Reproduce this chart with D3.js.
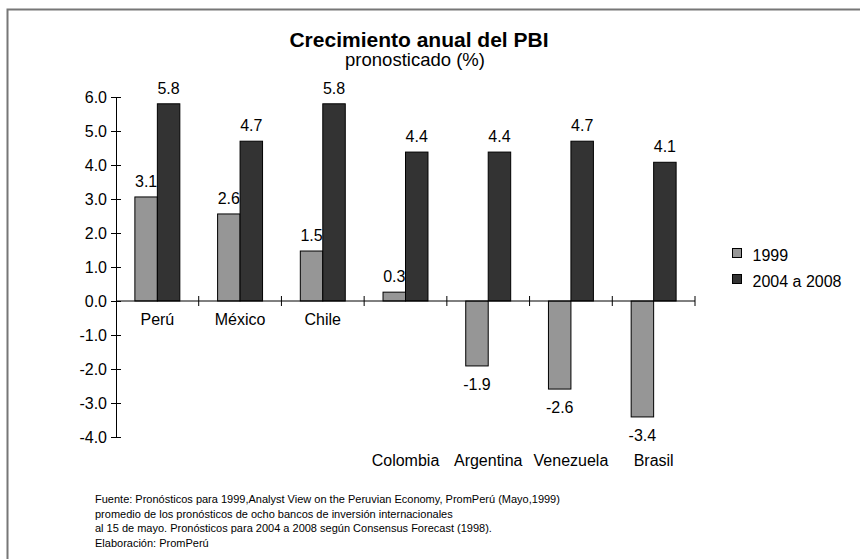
<!DOCTYPE html>
<html>
<head>
<meta charset="utf-8">
<script src="https://cdn.jsdelivr.net/npm/d3@7"></script>
<style>
  body { margin: 0; background: #fff; }
  svg text { font-family: "Liberation Sans", Arial, sans-serif; fill: #000; }
</style>
</head>
<body>
<div id="chart"></div>
<script>
let paises = ["Perú", "México", "Chile", "Colombia", "Argentina", "Venezuela", "Brasil"];
let series = ["1999", "2004 a 2008"];
let valores1999 = [3.06, 2.56, 1.47, 0.26, -1.91, -2.59, -3.41];
let valores2004 = [5.8, 4.7, 5.8, 4.38, 4.38, 4.7, 4.08];
let yTicks = [-4, -3, -2, -1, 0, 1, 2, 3, 4, 5, 6];
let colores = ["#969696", "#333333"];
let fuente = [
  "Fuente: Pronósticos para 1999,Analyst View on the Peruvian Economy, PromPerú (Mayo,1999)",
  "promedio de los pronósticos de ocho bancos de inversión internacionales",
  "al 15 de mayo. Pronósticos para 2004 a 2008 según Consensus Forecast (1998).",
  "Elaboración: PromPerú"
];

let width = 860, height = 559;
let fmt = function (v) { return v.toFixed(1); };

let data = paises.map(function (p, i) {
  return {pais: p, valores: [valores1999[i], valores2004[i]]};
});

let svg = d3.select("#chart").append("svg")
  .attr("width", width)
  .attr("height", height);

// marco
svg.append("rect")
  .attr("x", 7.5).attr("y", 9.5)
  .attr("width", 900).attr("height", 600)
  .attr("fill", "none")
  .attr("stroke", "#777")
  .attr("stroke-width", 2);

let x = d3.scaleBand()
  .domain(paises)
  .range([116, 695]);

let x1 = d3.scaleBand()
  .domain(series)
  .range([0, x.bandwidth()])
  .paddingOuter(0.84);

let y = d3.scaleLinear()
  .domain([-4, 6])
  .range([437, 97]);

// titulo
svg.append("text")
  .attr("x", 419).attr("y", 47)
  .attr("text-anchor", "middle")
  .style("font-size", "21px")
  .style("font-weight", "bold")
  .text("Crecimiento anual del PBI");

svg.append("text")
  .attr("x", 415).attr("y", 66)
  .attr("text-anchor", "middle")
  .style("font-size", "18.5px")
  .text("pronosticado (%)");

// barras
let grupos = svg.selectAll(".grupo")
  .data(data)
  .enter().append("g")
  .attr("transform", function (d) {
    return "translate(" + x(d.pais) + ",0)";
  });

grupos.selectAll("rect")
  .data(function (d) {
    return d.valores.map(function (v, i) { return {serie: series[i], v: v, i: i}; });
  })
  .enter().append("rect")
  .attr("x", function (d) { return x1(d.serie); })
  .attr("y", function (d) { return y(Math.max(0, d.v)); })
  .attr("width", x1.bandwidth())
  .attr("height", function (d) { return Math.abs(y(d.v) - y(0)); })
  .attr("fill", function (d) { return colores[d.i]; })
  .attr("stroke", "#000")
  .attr("stroke-width", 1);

grupos.selectAll(".valor")
  .data(function (d) {
    return d.valores.map(function (v, i) { return {serie: series[i], v: v}; });
  })
  .enter().append("text")
  .attr("class", "valor")
  .attr("x", function (d) { return x1(d.serie) + x1.bandwidth() / 2; })
  .attr("y", function (d) { return d.v >= 0 ? y(d.v) - 10 : y(d.v) + 24; })
  .attr("text-anchor", "middle")
  .style("font-size", "16px")
  .text(function (d) { return fmt(d.v); });

// eje y
let ejeY = svg.append("g")
  .attr("transform", "translate(116,0)")
  .call(d3.axisLeft(y).tickValues(yTicks).tickFormat(fmt).tickSize(0));
ejeY.select(".domain").attr("stroke", "#000");
ejeY.selectAll(".tick line").attr("x1", -5).attr("x2", 5).attr("stroke", "#000");
ejeY.selectAll(".tick text")
  .attr("x", -9)
  .style("font-size", "16px")
  .style("font-family", "'Liberation Sans', Arial, sans-serif");

// eje x en cero
let ejeX = svg.append("g")
  .attr("transform", "translate(0," + y(0) + ")");
ejeX.append("line")
  .attr("x1", 116).attr("x2", 695)
  .attr("stroke", "#000");
ejeX.selectAll(".marca")
  .data(paises)
  .enter().append("line")
  .attr("x1", function (d) { return x(d) + x.bandwidth(); })
  .attr("x2", function (d) { return x(d) + x.bandwidth(); })
  .attr("y1", -5).attr("y2", 5)
  .attr("stroke", "#000");

svg.selectAll(".pais")
  .data(data)
  .enter().append("text")
  .attr("x", function (d) { return x(d.pais) + x.bandwidth() / 2; })
  .attr("y", function (d, i) { return i < 3 ? 325 : 466; })
  .attr("text-anchor", "middle")
  .style("font-size", "16px")
  .text(function (d) { return d.pais; });

// leyenda
let leyenda = svg.selectAll(".leyenda")
  .data(series)
  .enter().append("g")
  .attr("transform", function (d, i) { return "translate(732.5," + (248.5 + i * 26) + ")"; });
leyenda.append("rect")
  .attr("width", 9).attr("height", 9)
  .attr("fill", function (d, i) { return colores[i]; })
  .attr("stroke", "#000");
leyenda.append("text")
  .attr("x", 20).attr("y", 12)
  .style("font-size", "16px")
  .text(function (d) { return d; });

// fuente
svg.selectAll(".fuente")
  .data(fuente)
  .enter().append("text")
  .attr("x", 95)
  .attr("y", function (d, i) { return 503 + i * 14.5; })
  .style("font-size", "11px")
  .text(function (d) { return d; });
</script>
</body>
</html>
